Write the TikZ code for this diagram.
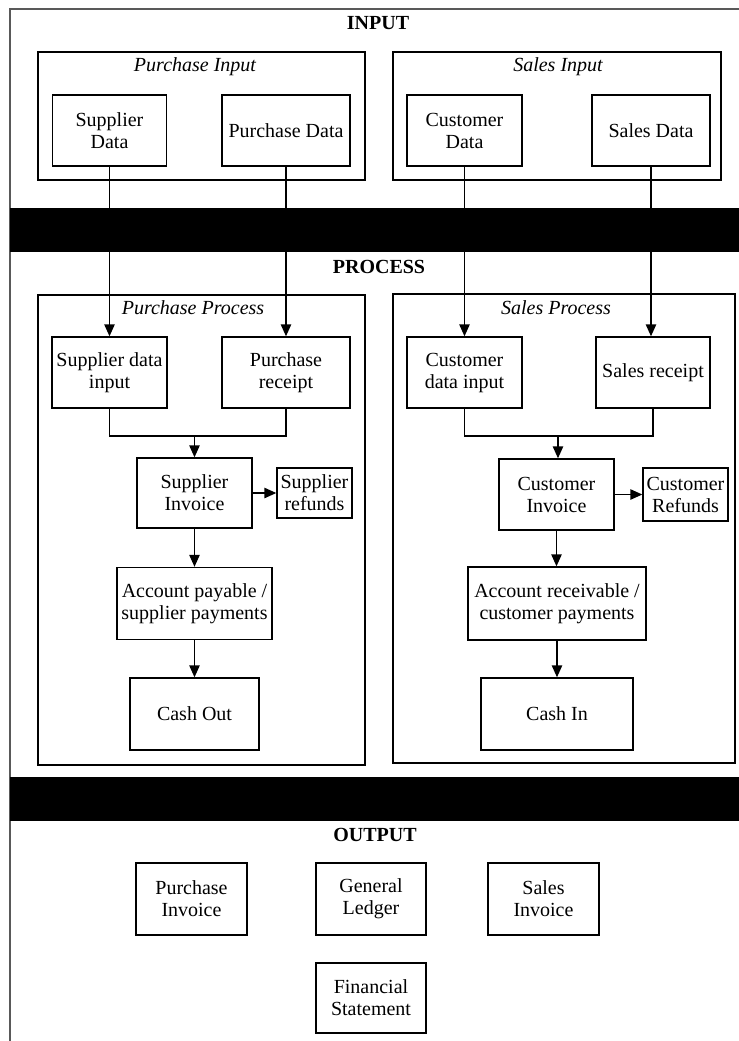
\documentclass[tikz,border=0pt]{standalone}
\usepackage{fontspec}
\setmainfont{Liberation Serif}
\usetikzlibrary{arrows.meta}
\tikzset{>={Triangle[length=6pt,width=5.2pt]}}
\tikzset{
  box/.style={draw, line width=0.7pt, align=center, inner sep=0pt, font=\fontsize{10}{11}\selectfont},
  grp/.style={draw, line width=0.7pt},
  title/.style={font=\fontsize{10}{11}\selectfont\bfseries},
  grptitle/.style={font=\fontsize{10}{11}\selectfont\itshape},
  link/.style={line width=0.7pt},
  bar/.style={fill=black}
}

\begin{document}
\begin{tikzpicture}[x=0.5pt,y=-0.5pt]
  \useasboundingbox (0,0) rectangle (739,1041);
  \draw[line width=0.7pt, gray!70!black] (10,1041) -- (10,9) -- (739,9);

  % input
  \node[title] (tin) at (378,23) {INPUT};
  \draw[grp] (38,52) rectangle (365,180);
  \draw[grp] (393,52) rectangle (721,180);
  \node[grptitle] (tpi) at (195,67) {Purchase Input};
  \node[grptitle] (tsi) at (558,67) {Sales Input};
  \node[box, minimum width=57pt, minimum height=35.5pt] (supd) at (109.5,130.5) {Supplier\\Data};
  \node[box, minimum width=64pt, minimum height=35.5pt] (purd) at (286,130.5) {Purchase Data};
  \node[box, minimum width=57.5pt, minimum height=35.5pt] (cusd) at (464.5,130.5) {Customer\\Data};
  \node[box, minimum width=59pt, minimum height=35.5pt] (sald) at (651,130.5) {Sales Data};

  % process
  \node[title] (tpr) at (379,267) {PROCESS};
  \draw[grp] (38,295) rectangle (365,765);
  \draw[grp] (393,294) rectangle (735,763);
  \node[grptitle] (tpp) at (193,308) {Purchase Process};
  \node[grptitle] (tsp) at (556,308) {Sales Process};

  \node[box, minimum width=57.5pt, minimum height=35.5pt] (supin) at (109.5,372.5) {Supplier data\\input};
  \node[box, minimum width=64pt, minimum height=35.5pt] (purr) at (286,372.5) {Purchase\\receipt};
  \node[box, minimum width=57.5pt, minimum height=35pt] (supinv) at (194.5,493) {Supplier\\Invoice};
  \node[box, minimum width=37.5pt, minimum height=25pt] (supref) at (314.5,493) {Supplier\\refunds};
  \node[box, minimum width=77.5pt, minimum height=36pt] (accp) at (194.5,603.5) {Account payable /\\supplier payments};
  \node[box, minimum width=64.5pt, minimum height=36pt] (cout) at (194.5,714) {Cash Out};

  \node[box, minimum width=57.5pt, minimum height=35.5pt] (cusin) at (464.5,372.5) {Customer\\data input};
  \node[box, minimum width=57pt, minimum height=35.5pt] (salr) at (653,372.5) {Sales receipt};
  \node[box, minimum width=57.5pt, minimum height=35.5pt] (cusinv) at (556.5,494.5) {Customer\\Invoice};
  \node[box, minimum width=42.5pt, minimum height=26.5pt] (cusref) at (685.5,494.5) {Customer\\Refunds};
  \node[box, minimum width=89pt, minimum height=36.5pt] (accr) at (557,603.5) {Account receivable /\\customer payments};
  \node[box, minimum width=76pt, minimum height=36pt] (cin) at (557,714) {Cash In};

  \coordinate (pj) at (194.5,436);
  \coordinate (sj) at (558,436);

  \draw[link,->] (supd) -- (supin);
  \draw[link,->] (purd) -- (purr);
  \draw[link,->] (cusd) -- (cusin);
  \draw[link,->] (sald.south) -- (sald.south |- salr.north);
  \draw[link] (supin.south) |- (pj) -| (purr.south);
  \draw[link,->] (pj) -- (supinv.north);
  \draw[link,->] (supinv) -- (supref);
  \draw[link,->] (supinv) -- (accp);
  \draw[link,->] (accp) -- (cout);
  \draw[link] (cusin.south) |- (sj) -| (salr.south);
  \draw[link,->] (sj) -- (sj |- cusinv.north);
  \draw[link,->] (cusinv) -- (cusref);
  \draw[link,->] (cusinv.south) -- (cusinv.south |- accr.north);
  \draw[link,->] (accr) -- (cin);

  \fill[bar] (10,208) rectangle (739,252);
  \fill[bar] (10,777) rectangle (739,821);

  % output
  \node[title] (tout) at (375,835) {OUTPUT};
  \node[box, minimum width=55.5pt, minimum height=36pt] (pinv) at (191.5,899) {Purchase\\Invoice};
  \node[box, minimum width=55pt, minimum height=36pt] (gl) at (371,899) {General\\Ledger};
  \node[box, minimum width=55.5pt, minimum height=36pt] (sinv) at (543.5,899) {Sales\\Invoice};
  \node[box, minimum width=55pt, minimum height=35pt] (fs) at (371,998) {Financial\\Statement};
\end{tikzpicture}
\end{document}
